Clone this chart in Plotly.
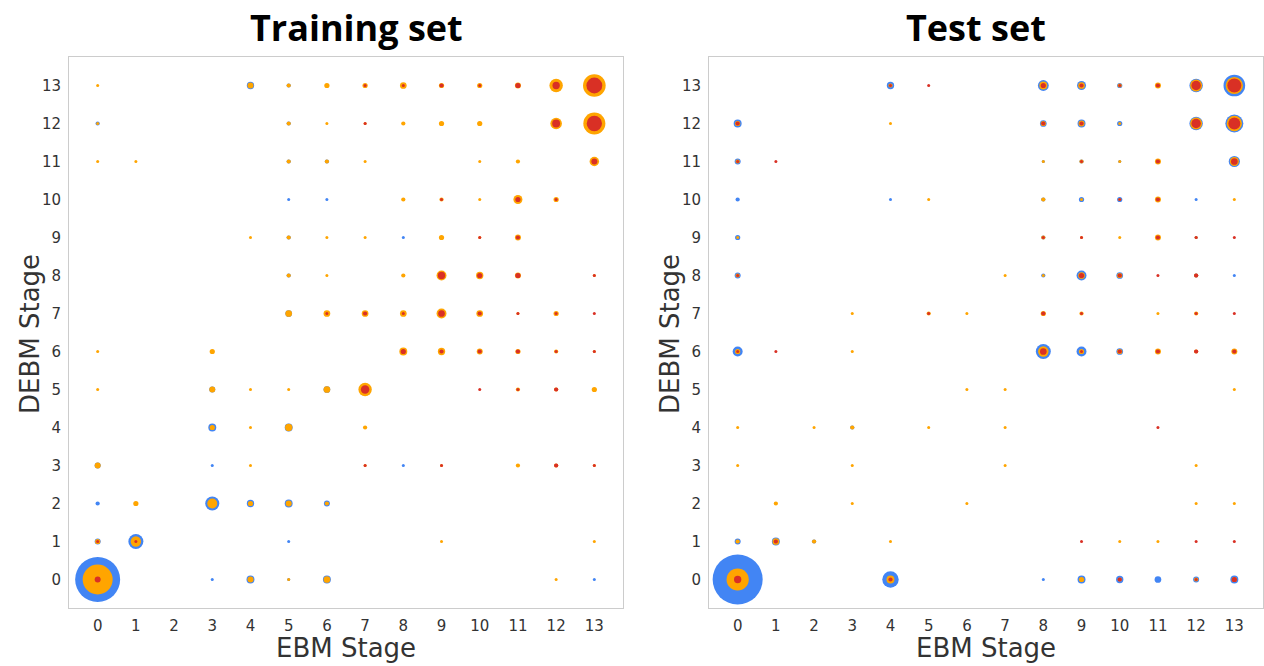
import plotly.graph_objects as go

# Each entry: (EBM stage, DEBM stage, count)
train_blue = [
    (4, 13, 6), (5, 13, 2), (0, 12, 2), (5, 12, 2), (5, 11, 2), (6, 11, 2),
    (5, 10, 1), (6, 10, 1), (5, 9, 2), (8, 9, 1), (5, 8, 2), (5, 7, 5),
    (3, 5, 4), (6, 5, 5), (3, 4, 7), (5, 4, 7), (0, 3, 4), (3, 3, 1), (8, 3, 1),
    (0, 2, 2), (3, 2, 22), (4, 2, 6), (5, 2, 7), (6, 2, 4), (0, 1, 4), (1, 1, 25),
    (5, 1, 1), (0, 0, 225), (3, 0, 1), (4, 0, 7), (5, 0, 1), (6, 0, 7), (13, 0, 1),
]
train_orange = [
    (0, 13, 1), (4, 13, 4), (5, 13, 2), (6, 13, 3), (7, 13, 3), (8, 13, 5),
    (9, 13, 3), (10, 13, 3), (11, 13, 4), (12, 13, 20), (13, 13, 57),
    (0, 12, 1), (5, 12, 2), (6, 12, 1), (7, 12, 1), (8, 12, 2), (9, 12, 3),
    (10, 12, 3), (12, 12, 15), (13, 12, 54),
    (0, 11, 1), (1, 11, 1), (5, 11, 2), (6, 11, 2), (7, 11, 1), (10, 11, 1),
    (11, 11, 2), (13, 11, 10),
    (8, 10, 2), (9, 10, 2), (10, 10, 1), (11, 10, 9), (12, 10, 3),
    (4, 9, 1), (5, 9, 2), (6, 9, 1), (7, 9, 1), (9, 9, 3), (10, 9, 1), (11, 9, 4),
    (5, 8, 2), (6, 8, 1), (8, 8, 2), (9, 8, 11), (10, 8, 6), (11, 8, 4), (13, 8, 1),
    (5, 7, 5), (6, 7, 5), (7, 7, 5), (8, 7, 5), (9, 7, 11), (10, 7, 5), (11, 7, 1),
    (12, 7, 3),
    (0, 6, 1), (3, 6, 3), (8, 6, 7), (9, 6, 6), (10, 6, 4), (11, 6, 3), (12, 6, 2),
    (13, 6, 1),
    (0, 5, 1), (3, 5, 4), (4, 5, 1), (5, 5, 1), (6, 5, 5), (7, 5, 20), (11, 5, 2),
    (12, 5, 2), (13, 5, 3),
    (3, 4, 3), (4, 4, 1), (5, 4, 6), (7, 4, 2),
    (0, 3, 4), (4, 3, 1), (7, 3, 1), (9, 3, 1), (11, 3, 2), (12, 3, 2), (13, 3, 1),
    (1, 2, 3), (3, 2, 11), (4, 2, 3), (5, 2, 4), (6, 2, 2),
    (0, 1, 3), (1, 1, 12), (9, 1, 1), (13, 1, 1),
    (0, 0, 100), (4, 0, 4), (5, 0, 1), (6, 0, 5), (12, 0, 1),
]
train_red = [
    (7, 13, 1), (8, 13, 1), (9, 13, 2), (10, 13, 1), (11, 13, 3), (12, 13, 6),
    (13, 13, 28),
    (7, 12, 1), (12, 12, 7), (13, 12, 26),
    (13, 11, 4),
    (9, 10, 1), (11, 10, 3), (12, 10, 1),
    (10, 9, 1), (11, 9, 2),
    (9, 8, 6), (10, 8, 3), (11, 8, 3), (13, 8, 1),
    (6, 7, 1), (7, 7, 2), (8, 7, 1), (9, 7, 5), (10, 7, 2), (11, 7, 1), (12, 7, 1),
    (13, 7, 1),
    (8, 6, 3), (9, 6, 2), (10, 6, 2), (11, 6, 2), (12, 6, 1), (13, 6, 1),
    (7, 5, 8), (10, 5, 1), (11, 5, 1), (12, 5, 2),
    (7, 3, 1), (9, 3, 1), (12, 3, 2), (13, 3, 1),
    (0, 1, 1), (1, 1, 1),
    (0, 0, 4),
]

test_blue = [
    (4, 13, 6), (8, 13, 13), (9, 13, 9), (10, 13, 3), (12, 13, 20), (13, 13, 52),
    (0, 12, 7), (8, 12, 5), (9, 12, 7), (10, 12, 3), (12, 12, 20), (13, 12, 36),
    (0, 11, 4), (8, 11, 1), (9, 11, 2), (10, 11, 1), (13, 11, 14),
    (0, 10, 2), (4, 10, 1), (8, 10, 2), (9, 10, 3), (10, 10, 3), (12, 10, 1),
    (0, 9, 3), (8, 9, 2), (12, 9, 1),
    (0, 8, 4), (8, 8, 2), (9, 8, 11), (10, 8, 5), (12, 8, 2), (13, 8, 1),
    (0, 6, 11), (8, 6, 25), (9, 6, 11), (10, 6, 5),
    (3, 4, 2),
    (0, 1, 4), (1, 1, 7), (2, 1, 2),
    (0, 0, 278), (4, 0, 30), (8, 0, 1), (9, 0, 7), (10, 0, 6), (11, 0, 5),
    (12, 0, 4), (13, 0, 7),
]
test_orange = [
    (4, 13, 2), (8, 13, 7), (9, 13, 5), (10, 13, 2), (11, 13, 4), (12, 13, 16),
    (13, 13, 33),
    (0, 12, 3), (4, 12, 1), (8, 12, 3), (9, 12, 4), (10, 12, 1), (12, 12, 16),
    (13, 12, 26),
    (0, 11, 2), (8, 11, 1), (9, 11, 2), (10, 11, 1), (11, 11, 4), (13, 11, 9),
    (5, 10, 1), (8, 10, 2), (9, 10, 1), (10, 10, 1), (11, 10, 4), (13, 10, 1),
    (0, 9, 1), (8, 9, 2), (9, 9, 1), (10, 9, 1), (11, 9, 4), (12, 9, 1),
    (0, 8, 2), (7, 8, 1), (8, 8, 1), (9, 8, 5), (10, 8, 3), (12, 8, 2),
    (3, 7, 1), (5, 7, 2), (6, 7, 1), (8, 7, 3), (9, 7, 2), (11, 7, 1), (12, 7, 2),
    (0, 6, 3), (3, 6, 1), (8, 6, 12), (9, 6, 3), (10, 6, 3), (11, 6, 4), (12, 6, 2),
    (13, 6, 4),
    (6, 5, 1), (7, 5, 1), (13, 5, 1),
    (0, 4, 1), (2, 4, 1), (3, 4, 2), (5, 4, 1), (7, 4, 1),
    (0, 3, 1), (3, 3, 1), (7, 3, 1), (12, 3, 1),
    (1, 2, 2), (3, 2, 1), (6, 2, 1), (12, 2, 1), (13, 2, 1),
    (0, 1, 2), (1, 1, 5), (2, 1, 2), (4, 1, 1), (10, 1, 1), (11, 1, 1),
    (0, 0, 55), (4, 0, 7), (9, 0, 3), (10, 0, 2), (12, 0, 2), (13, 0, 3),
]
test_red = [
    (4, 13, 1), (5, 13, 1), (8, 13, 3), (9, 13, 2), (10, 13, 1), (11, 13, 2),
    (12, 13, 10), (13, 13, 22),
    (0, 12, 2), (8, 12, 2), (9, 12, 2), (12, 12, 10), (13, 12, 16),
    (0, 11, 1), (1, 11, 1), (9, 11, 1), (11, 11, 2), (13, 11, 5),
    (10, 10, 1), (11, 10, 2),
    (8, 9, 1), (9, 9, 1), (11, 9, 2), (12, 9, 1), (13, 9, 1),
    (0, 8, 1), (9, 8, 3), (10, 8, 2), (11, 8, 1), (12, 8, 2),
    (5, 7, 1), (8, 7, 2), (9, 7, 1), (12, 7, 1), (13, 7, 1),
    (0, 6, 1), (1, 6, 1), (8, 6, 5), (9, 6, 1), (10, 6, 2), (11, 6, 2), (12, 6, 2),
    (13, 6, 2),
    (11, 4, 1),
    (1, 1, 2), (9, 1, 1), (12, 1, 1), (13, 1, 1),
    (0, 0, 6), (4, 0, 2), (10, 0, 2), (12, 0, 1), (13, 0, 3),
]

stages = list(range(14))
panel_titles = ["Training set", "Test set"]

BLUE, ORANGE, RED = "#4285F4", "#FFA500", "#D93025"
SIZEREF = 2 / 9  # area-scaled bubbles: diameter = 3 * sqrt(count) px

fig = go.Figure()


def add_layer(cells, color, xa, ya):
    fig.add_trace(go.Scatter(
        x=[c[0] for c in cells],
        y=[c[1] for c in cells],
        mode="markers",
        marker=dict(size=[c[2] for c in cells], sizemode="area", sizeref=SIZEREF,
                    color=color, line=dict(width=0), opacity=1),
        xaxis=xa, yaxis=ya, showlegend=False, hoverinfo="x+y+text",
        text=[str(c[2]) for c in cells],
    ))


for cells_b, cells_o, cells_r, xa, ya in [
    (train_blue, train_orange, train_red, "x", "y"),
    (test_blue, test_orange, test_red, "x2", "y2"),
]:
    add_layer(cells_b, BLUE, xa, ya)
    add_layer(cells_o, ORANGE, xa, ya)
    add_layer(cells_r, RED, xa, ya)

W, H = 1264, 666
x_domains = [[69 / W, 623 / W], [709 / W, 1263 / W]]
y_domain = [1 - 608 / H, 1 - 57 / H]

tick_font = dict(family="DejaVu Sans", size=15, color="#333333")
axis_common = dict(
    range=[-0.75, 13.75], tickmode="array", tickvals=stages,
    ticktext=[str(s) for s in stages], showgrid=False, zeroline=False,
    showline=True, linecolor="#cccccc", linewidth=1, mirror=True,
    ticks="outside", ticklen=4, tickcolor="rgba(0,0,0,0)", tickfont=tick_font,
    fixedrange=True,
)

fig.update_layout(
    width=W, height=H,
    margin=dict(l=0, r=0, t=0, b=0),
    paper_bgcolor="white", plot_bgcolor="white",
    xaxis=dict(domain=x_domains[0], anchor="y", **axis_common),
    yaxis=dict(domain=y_domain, anchor="x", **axis_common),
    xaxis2=dict(domain=x_domains[1], anchor="y2", **axis_common),
    yaxis2=dict(domain=y_domain, anchor="x2", **axis_common),
)

label_font = dict(family="DejaVu Sans", size=26, color="#333333")
title_font = dict(family="Open Sans", size=36, color="#000000", weight="bold")
title_x = [356, 976]
ylabel_x = [30, 670]
for i in range(2):
    cx = (x_domains[i][0] + x_domains[i][1]) / 2
    fig.add_annotation(text=panel_titles[i], x=title_x[i] / W, y=1 - 27 / H,
                       xref="paper", yref="paper", xanchor="center", yanchor="middle",
                       showarrow=False, font=title_font)
    fig.add_annotation(text="EBM Stage", x=cx, y=1 - 648 / H,
                       xref="paper", yref="paper", xanchor="center", yanchor="middle",
                       showarrow=False, font=label_font)
    fig.add_annotation(text="DEBM Stage", x=ylabel_x[i] / W, y=1 - 334 / H,
                       xref="paper", yref="paper", xanchor="center", yanchor="middle",
                       textangle=-90, showarrow=False, font=label_font)

fig.write_html("out.html")
